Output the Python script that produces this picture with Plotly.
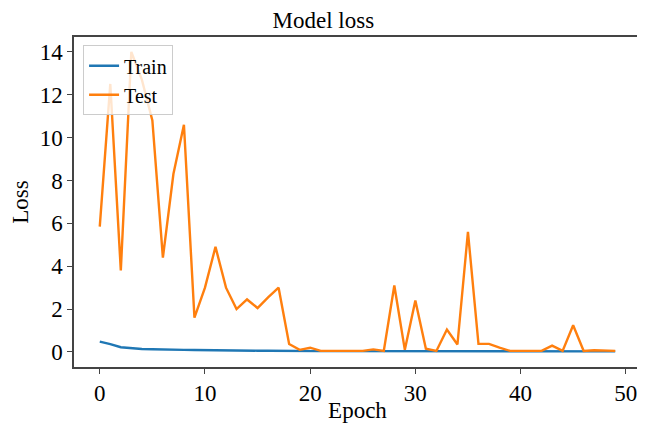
import plotly.graph_objects as go

epochs = list(range(50))

train_loss = [0.48, 0.37, 0.22, 0.17, 0.14, 0.13, 0.13, 0.11, 0.10, 0.09,
              0.08, 0.08, 0.07, 0.07, 0.06, 0.06, 0.06, 0.05, 0.05, 0.05,
              0.05, 0.04, 0.04, 0.04, 0.04, 0.04, 0.04, 0.04, 0.03, 0.03,
              0.03, 0.03, 0.03, 0.03, 0.03, 0.03, 0.03, 0.03, 0.03, 0.03,
              0.03, 0.03, 0.03, 0.03, 0.03, 0.03, 0.03, 0.03, 0.03, 0.03]

test_loss = [5.85, 12.5, 3.8, 14.0, 12.7, 10.8, 4.4, 8.3, 10.6, 1.6,
             3.0, 4.9, 3.0, 2.0, 2.45, 2.05, 2.55, 3.0, 0.37, 0.1,
             0.2, 0.05, 0.05, 0.05, 0.08, 0.05, 0.12, 0.05, 3.1, 0.1,
             2.4, 0.15, 0.05, 1.05, 0.35, 5.6, 0.38, 0.38, 0.2, 0.05,
             0.05, 0.05, 0.05, 0.3, 0.05, 1.25, 0.05, 0.08, 0.05, 0.05]

font = "Liberation Serif"
fsize = 23

fig = go.Figure()
fig.add_trace(go.Scatter(x=epochs, y=train_loss, mode="lines", name="Train",
                         line=dict(color="#1f77b4", width=2.4)))
fig.add_trace(go.Scatter(x=epochs, y=test_loss, mode="lines", name="Test",
                         line=dict(color="#ff7f0e", width=2.4)))

axis_style = dict(showgrid=False, zeroline=False, showline=True, mirror=True,
                  linecolor="#444", linewidth=1.5, ticks="outside", ticklen=5,
                  tickcolor="#444", automargin=False,
                  tickfont=dict(family=font, size=fsize, color="black"))

# the page adds an 8px body margin, so the figure is a bit smaller than the window
fig.update_layout(
    width=637, height=415,
    margin=dict(l=66, r=4, t=29, b=56),
    paper_bgcolor="white", plot_bgcolor="white",
    title=dict(text="Model loss", x=0.495, xanchor="center", y=0.99, yanchor="top",
               font=dict(family=font, size=fsize, color="black")),
    xaxis=dict(range=[-2.45, 51.45], tickvals=[0, 10, 20, 30, 40, 50],
               title=dict(text="Epoch", standoff=0,
                          font=dict(family=font, size=fsize, color="black")),
               **axis_style),
    yaxis=dict(range=[-0.70, 14.69], tickvals=[0, 2, 4, 6, 8, 10, 12, 14],
               title=dict(text="Loss", standoff=6,
                          font=dict(family=font, size=fsize, color="black")),
               **axis_style),
    legend=dict(x=0.016, y=0.975, xanchor="left", yanchor="top",
                bgcolor="rgba(255,255,255,0.8)", bordercolor="#ccc", borderwidth=1,
                font=dict(family=font, size=20, color="black"),
                tracegroupgap=0, itemwidth=30),
    showlegend=True,
)

fig.write_html("out.html")
